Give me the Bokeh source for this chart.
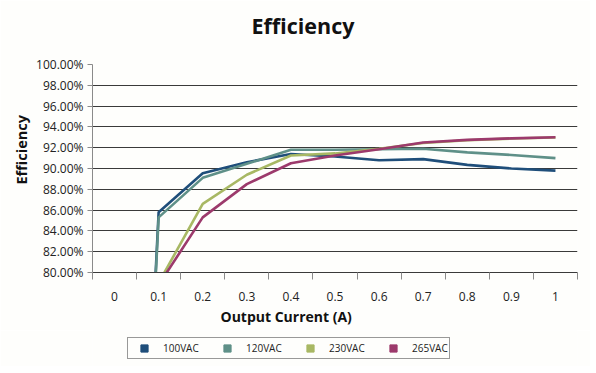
from bokeh.plotting import figure
from bokeh.layouts import column
from bokeh.models import (Range1d, FixedTicker, NumeralTickFormatter, CustomJSTickFormatter,
                          Legend, LegendItem, Title, ColumnDataSource)
from bokeh.embed import file_html
from bokeh.resources import INLINE

# ---- data ----
current = [0.0, 0.1, 0.2, 0.3, 0.4, 0.5, 0.6, 0.7, 0.8, 0.9, 1.0]
eff_100 = [0.0, 0.858, 0.8955, 0.906, 0.914, 0.9115, 0.908, 0.909, 0.9035, 0.900, 0.898]
eff_120 = [0.0, 0.853, 0.891, 0.9045, 0.918, 0.918, 0.9185, 0.919, 0.9155, 0.913, 0.910]
eff_230 = [0.0, 0.790, 0.866, 0.894, 0.9125, 0.9145, 0.919, 0.9245, 0.9272, 0.9288, 0.9298]
eff_265 = [0.0, 0.788, 0.853, 0.885, 0.905, 0.9125, 0.9185, 0.925, 0.9275, 0.929, 0.930]
series_names = ["100VAC", "120VAC", "230VAC", "265VAC"]
y_ticks = [0.80, 0.82, 0.84, 0.86, 0.88, 0.90, 0.92, 0.94, 0.96, 0.98, 1.00]

colors = ["#1f4e7a", "#5f9088", "#a8b864", "#9c3a6c"]
FONT = "Open Sans"
BG = "#fefefc"
W = 590

p = figure(width=W, height=330, output_backend="svg", toolbar_location=None,
           x_range=Range1d(-0.05, 1.05), y_range=Range1d(0.80, 1.00),
           min_border_left=92, min_border_right=13, min_border_top=64, min_border_bottom=58)
p.background_fill_color = BG
p.border_fill_color = BG
p.outline_line_color = None
p.title.text = ""

# title (spacer keeps it up at the reference height)
spacer = Title(text=" ", text_font=FONT, text_font_size="10px", standoff=9)
p.add_layout(spacer, "above")
main_title = Title(text="Efficiency", align="left", offset=159,
                   text_font=FONT, text_font_size="21.5px", text_font_style="bold",
                   text_color="#111111", standoff=0)
p.add_layout(main_title, "above")

# grids
p.xgrid.grid_line_color = None
p.ygrid.grid_line_color = "#3a3a3a"
p.ygrid.grid_line_width = 1
p.ygrid.ticker = FixedTicker(ticks=y_ticks)

# y axis
p.yaxis.ticker = FixedTicker(ticks=y_ticks)
p.yaxis.formatter = NumeralTickFormatter(format="0.00%")
p.yaxis.major_label_text_font = FONT
p.yaxis.major_label_text_font_size = "12px"
p.yaxis.major_label_text_color = "#222222"
p.yaxis.major_label_standoff = 4
p.yaxis.axis_line_color = "#8a8a8a"
p.yaxis.major_tick_line_color = "#8a8a8a"
p.yaxis.major_tick_out = 5
p.yaxis.major_tick_in = 0
p.yaxis.minor_tick_line_color = None

ylabel = Title(text="Efficiency", align="left", offset=88,
               text_font=FONT, text_font_size="14.5px", text_font_style="bold",
               text_color="#111111", standoff=6)
p.add_layout(ylabel, "left")

# x axis
boundaries = [c - 0.05 for c in current] + [1.05]
p.xaxis.ticker = FixedTicker(ticks=current, minor_ticks=boundaries)
p.xaxis.formatter = CustomJSTickFormatter(code="return String(Math.round(tick*10)/10);")
p.xaxis.major_tick_line_color = None
p.xaxis.major_tick_out = 0
p.xaxis.major_tick_in = 0
p.xaxis.minor_tick_line_color = "#8a8a8a"
p.xaxis.minor_tick_out = 7
p.xaxis.minor_tick_in = 0
p.xaxis.axis_line_color = "#3a3a3a"
p.xaxis.major_label_text_font = FONT
p.xaxis.major_label_text_font_size = "12px"
p.xaxis.major_label_text_color = "#222222"
p.xaxis.major_label_standoff = 12

xlabel = Title(text="Output Current (A)", align="left", offset=128,
               text_font=FONT, text_font_size="14px", text_font_style="bold",
               text_color="#111111", standoff=3)
p.add_layout(xlabel, "below")

# lines
data = [eff_100, eff_120, eff_230, eff_265]
for vals, col in zip(data, colors):
    src = ColumnDataSource(dict(x=current, y=vals))
    p.line("x", "y", source=src, line_color=col, line_width=2.6)

# legend strip (markers exist only as legend swatches; data lie outside this strip's range)
lg = figure(width=W, height=36, output_backend="svg", toolbar_location=None,
            x_range=Range1d(0, 1), y_range=Range1d(5, 6),
            min_border_left=92, min_border_right=13, min_border_top=0, min_border_bottom=0)
lg.background_fill_color = BG
lg.border_fill_color = BG
lg.outline_line_color = None
lg.axis.visible = False
lg.grid.grid_line_color = None
items = []
for name, vals, col in zip(series_names, data, colors):
    src = ColumnDataSource(dict(x=current, y=vals))
    sw = lg.scatter("x", "y", source=src, marker="square", fill_color=col, line_color=col)
    items.append(LegendItem(label=name, renderers=[sw]))

legend = Legend(items=items, orientation="horizontal", location=(35, 7),
                label_text_font=FONT, label_text_font_size="10px", label_text_color="#222222",
                glyph_width=30, glyph_height=18, label_height=12, label_width=36,
                label_standoff=4, spacing=13, padding=1, margin=0,
                border_line_color="#333333", border_line_width=1,
                background_fill_color=BG)
lg.add_layout(legend, "center")

layout = column(p, lg, spacing=0)
open("out.html", "w").write(file_html(layout, INLINE))
